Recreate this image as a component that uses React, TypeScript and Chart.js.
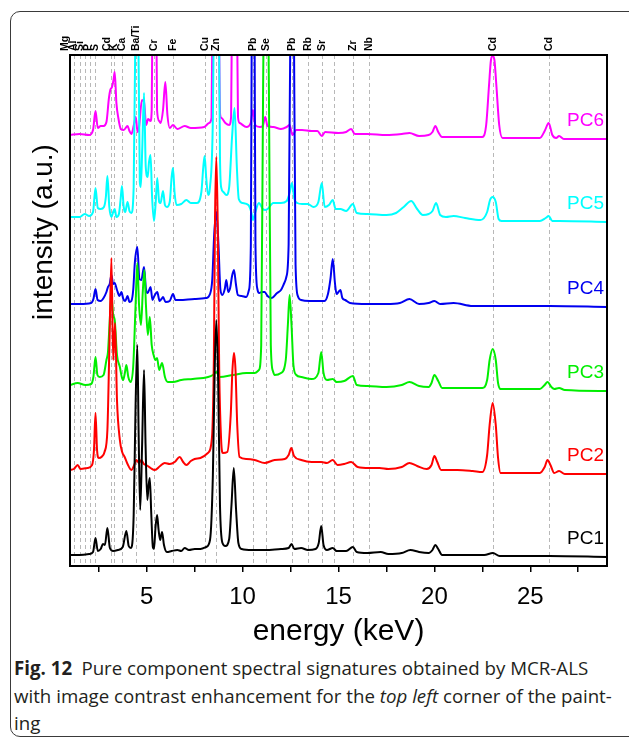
import React, { useEffect, useRef } from 'react';
import { Chart, registerables } from 'chart.js';

Chart.register(...registerables);

// ---------------- data ----------------
const seriesNames = ['PC1', 'PC2', 'PC3', 'PC4', 'PC5', 'PC6'];
const seriesColors = ['#000000', '#ff0000', '#00ee00', '#0000f0', '#00ffff', '#ff00ff'];
// vertical offset of each spectrum (a.u.)
const seriesOffsets = [11, 96, 181, 262, 349, 431];

// [energy keV, intensity a.u.]
const pc1: number[][] = [
  [1.0, 0], [1.5, 0], [2.0, 1], [2.2, 3], [2.33, 17], [2.45, 4], [2.6, 6], [2.72, 11], [2.82, 10], [2.95, 27],
  [3.08, 7], [3.25, 4], [3.5, 5], [3.75, 8], [3.94, 24], [4.06, 9], [4.18, 7], [4.32, 40], [4.42, 150], [4.51, 210],
  [4.58, 120], [4.66, 45], [4.76, 110], [4.86, 185], [4.94, 110], [5.03, 55], [5.1, 70], [5.16, 77], [5.24, 40], [5.32, 8],
  [5.38, 6], [5.46, 28], [5.54, 40], [5.62, 25], [5.7, 15], [5.8, 23], [5.9, 10], [6.05, 3], [6.3, 4], [6.6, 5],
  [6.8, 4], [6.98, 7], [7.2, 5], [7.5, 6], [7.8, 6], [8.1, 8], [8.3, 15], [8.45, 80], [8.55, 190], [8.63, 235],
  [8.72, 180], [8.82, 50], [8.95, 12], [9.1, 9], [9.3, 16], [9.42, 50], [9.54, 87], [9.66, 45], [9.78, 12], [9.95, 6],
  [10.5, 5], [11.2, 5], [12.0, 6], [12.4, 7], [12.55, 11], [12.7, 6], [13.05, 7], [13.4, 5], [13.8, 6], [13.97, 12],
  [14.1, 29], [14.22, 10], [14.4, 5], [14.7, 7], [14.9, 4], [15.4, 4], [15.75, 8], [15.95, 3], [16.5, 2], [17.2, 3],
  [17.6, 1], [18.3, 2], [18.75, 5], [19.2, 3], [19.7, 2], [19.9, 5], [20.05, 10], [20.2, 6], [20.4, 0], [21.5, 0],
  [22.6, 0], [23.05, 2], [23.4, -1], [24.5, -1], [26.0, -1], [29.0, -2],
];

const pc2: number[][] = [
  [1.0, 0], [1.2, 1], [1.4, 5], [1.55, 1], [1.9, 2], [2.15, 5], [2.25, 20], [2.33, 57], [2.41, 20], [2.5, 12],
  [2.64, 13], [2.8, 18], [2.95, 40], [3.05, 120], [3.16, 212], [3.25, 110], [3.35, 147], [3.45, 70], [3.6, 30], [3.72, 18],
  [3.85, 13], [4.0, 6], [4.2, 0], [4.35, 5], [4.46, 10], [4.6, 7], [4.72, 10], [4.85, 6], [4.98, 5], [5.2, 2],
  [5.42, 0], [5.7, 4], [5.94, 7], [6.2, 6], [6.46, 8], [6.72, 13], [6.9, 8], [7.07, 5], [7.3, 9], [7.5, 11],
  [7.8, 12], [8.19, 17], [8.4, 32], [8.5, 110], [8.56, 250], [8.63, 313], [8.7, 250], [8.78, 100], [8.88, 30], [8.97, 17],
  [9.2, 18], [9.38, 55], [9.47, 100], [9.55, 117], [9.63, 100], [9.72, 45], [9.84, 13], [10.2, 11], [10.63, 10], [11.15, 7],
  [11.67, 10], [12.2, 11], [12.4, 15], [12.54, 22], [12.68, 14], [13.06, 10], [13.6, 8], [14.1, 8], [14.4, 7], [14.7, 10],
  [14.95, 5], [15.3, 6], [15.66, 8], [16.0, 3], [16.6, 2], [17.14, 2], [17.6, 1], [18.3, 3], [18.7, 7], [19.1, 4],
  [19.6, 1], [19.85, 5], [20.0, 14], [20.15, 8], [20.35, 0], [21.2, 0], [22.0, -1], [22.5, -2], [22.75, 15], [22.88, 45],
  [23.04, 67], [23.2, 45], [23.32, 12], [23.45, -3], [25.5, -3], [25.75, 3], [25.9, 10], [26.05, 5], [26.25, -3], [26.5, -1],
  [26.8, -4], [29.0, -4],
];

const pc3: number[][] = [
  [1.0, 0], [1.4, 2], [1.8, 0], [2.1, 1], [2.22, 8], [2.33, 28], [2.43, 10], [2.55, 8], [2.75, 10], [2.9, 25],
  [2.98, 33], [3.06, 60], [3.16, 90], [3.25, 70], [3.33, 65], [3.45, 30], [3.6, 18], [3.7, 8], [3.77, 5], [3.86, 12],
  [3.94, 20], [4.04, 8], [4.17, 3], [4.3, 20], [4.42, 80], [4.51, 122], [4.6, 80], [4.7, 60], [4.8, 95], [4.88, 115],
  [4.96, 80], [5.06, 50], [5.16, 68], [5.26, 40], [5.36, 30], [5.45, 25], [5.54, 27], [5.65, 15], [5.8, 22], [5.95, 8],
  [6.1, 3], [6.37, 3], [6.8, 5], [7.4, 6], [8.2, 8], [8.45, 10], [8.63, 13], [8.8, 8], [9.5, 10], [10.2, 12],
  [10.63, 12], [10.85, 15], [10.97, 40], [11.07, 300], [11.22, 560], [11.37, 300], [11.47, 40], [11.58, 14], [11.67, 10], [12.0, 12],
  [12.25, 25], [12.36, 60], [12.45, 90], [12.55, 60], [12.65, 20], [12.8, 10], [13.06, 8], [13.6, 6], [13.95, 12], [14.1, 33],
  [14.22, 12], [14.4, 5], [14.7, 6], [14.9, 3], [15.3, 4], [15.75, 9], [15.95, 0], [16.5, -1], [17.5, -2], [18.3, 0],
  [18.7, 3], [19.2, -1], [19.7, -2], [19.85, 2], [20.0, 10], [20.2, 4], [20.4, -3], [21.5, -3], [22.5, -3], [22.75, 5],
  [22.88, 25], [23.04, 36], [23.2, 25], [23.32, 2], [23.45, -4], [25.5, -4], [25.75, 0], [25.9, 3], [26.1, -2], [26.25, -4],
  [26.5, -3], [26.8, -5], [29.0, -6],
];

const pc4: number[][] = [
  [1.0, 0], [1.5, 0], [2.1, 1], [2.22, 5], [2.33, 15], [2.44, 4], [2.6, 3], [2.75, 6], [2.9, 12], [2.98, 17],
  [3.07, 20], [3.16, 29], [3.25, 20], [3.33, 21], [3.45, 14], [3.58, 8], [3.68, 12], [3.78, 5], [3.88, 3], [4.0, 8],
  [4.1, 2], [4.2, 3], [4.3, 15], [4.38, 41], [4.51, 57], [4.62, 25], [4.72, 24], [4.86, 37], [4.96, 15], [5.05, 11],
  [5.2, 17], [5.3, 4], [5.4, 8], [5.55, 12], [5.67, 3], [5.77, 5], [5.85, 7], [5.98, 2], [6.2, 3], [6.37, 10],
  [6.5, 4], [6.7, 4], [7.5, 5], [8.1, 6], [8.3, 10], [8.42, 25], [8.52, 70], [8.63, 92], [8.74, 60], [8.84, 15],
  [8.94, 9], [9.07, 15], [9.15, 24], [9.25, 12], [9.35, 16], [9.45, 28], [9.55, 34], [9.65, 20], [9.75, 9], [9.95, 8],
  [10.19, 7], [10.33, 14], [10.43, 60], [10.48, 300], [10.55, 600], [10.62, 300], [10.67, 60], [10.77, 15], [10.87, 11], [11.0, 12],
  [11.15, 12], [11.3, 8], [11.5, 6], [11.8, 11], [12.0, 14], [12.15, 20], [12.28, 27], [12.4, 60], [12.5, 300], [12.58, 600],
  [12.67, 300], [12.76, 40], [12.88, 8], [13.05, 4], [13.5, 3], [14.0, 3], [14.27, 3], [14.45, 10], [14.58, 25], [14.7, 45],
  [14.82, 20], [14.9, 10], [15.0, 12], [15.1, 14], [15.2, 6], [15.35, 4], [15.6, 1], [16.5, 0], [17.5, 0], [18.2, 1],
  [18.7, 5], [19.2, 0], [19.7, 1], [20.0, 3], [20.3, 0], [21.0, 1], [22.0, -2], [23.0, -2], [24.0, -2], [26.0, -2],
  [29.0, -3],
];

const pc5: number[][] = [
  [1.0, 0], [1.5, 0], [1.77, 3], [2.0, 1], [2.2, 5], [2.33, 29], [2.45, 9], [2.6, 8], [2.77, 10], [2.87, 20],
  [2.95, 41], [3.05, 10], [3.16, 0], [3.25, 5], [3.33, 8], [3.42, 0], [3.55, 3], [3.64, 18], [3.71, 31], [3.8, 10],
  [3.88, 5], [4.0, 15], [4.1, 6], [4.2, 4], [4.32, 30], [4.42, 200], [4.49, 420], [4.56, 200], [4.64, 35], [4.69, 30],
  [4.77, 70], [4.86, 124], [4.95, 50], [5.05, 40], [5.12, 55], [5.2, 62], [5.28, 20], [5.38, -4], [5.47, 15], [5.55, 39],
  [5.65, 15], [5.72, 14], [5.85, 26], [5.95, 12], [6.05, 10], [6.2, 15], [6.3, 40], [6.37, 49], [6.45, 25], [6.55, 12],
  [6.8, 13], [7.07, 17], [7.3, 14], [7.6, 14], [7.85, 25], [7.95, 50], [8.02, 61], [8.1, 40], [8.2, 22], [8.3, 30],
  [8.45, 100], [8.55, 300], [8.65, 420], [8.73, 300], [8.82, 60], [8.89, 29], [9.0, 25], [9.15, 22], [9.3, 30], [9.45, 80],
  [9.58, 109], [9.7, 50], [9.8, 18], [10.0, 14], [10.3, 12], [10.45, 5], [10.54, -3], [10.65, 4], [10.85, 14], [11.05, 8],
  [11.18, 7], [11.3, 8], [11.6, 14], [12.0, 14], [12.3, 16], [12.45, 24], [12.57, 34], [12.7, 18], [12.85, 14], [13.1, 13],
  [13.4, 13], [13.7, 10], [13.95, 15], [14.13, 34], [14.28, 10], [14.5, 12], [14.7, 17], [14.85, 8], [15.1, 8], [15.4, 6],
  [15.75, 13], [15.95, 4], [16.5, 3], [17.5, 2], [18.0, 4], [18.4, 10], [18.79, 16], [19.1, 8], [19.4, 2], [19.7, 3],
  [19.9, 6], [20.09, 14], [20.3, 2], [20.6, 0], [21.0, 1], [21.6, -1], [22.4, -3], [22.75, 5], [22.9, 17], [23.04, 20],
  [23.2, 15], [23.35, -2], [23.5, -4], [25.5, -4], [25.8, -1], [25.96, 1], [26.15, -4], [26.5, -4], [29.0, -5],
];

const pc6: number[][] = [
  [1.0, 0], [1.5, 1], [2.0, 0], [2.2, 5], [2.33, 24], [2.45, 7], [2.6, 9], [2.75, 9], [2.9, 13], [3.03, 37],
  [3.1, 45], [3.19, 48], [3.27, 55], [3.33, 63], [3.42, 32], [3.52, 17], [3.65, 6], [3.8, 5], [4.0, 9], [4.1, 4],
  [4.2, 1], [4.33, 10], [4.43, 18], [4.52, 3], [4.6, 8], [4.75, 35], [4.86, 33], [4.97, 10], [5.07, 16], [5.2, 14],
  [5.26, 25], [5.31, 150], [5.4, 500], [5.49, 150], [5.54, 25], [5.65, 14], [5.73, 12], [5.85, 25], [5.97, 53], [6.08, 20],
  [6.2, 7], [6.37, 10], [6.6, 6], [6.98, 9], [7.3, 7], [8.0, 8], [8.25, 12], [8.38, 17], [8.43, 120], [8.5, 420],
  [8.6, 520], [8.7, 420], [8.77, 120], [8.83, 20], [8.9, 17], [9.1, 12], [9.3, 10], [9.4, 18], [9.45, 130], [9.52, 420],
  [9.58, 520], [9.64, 420], [9.7, 130], [9.76, 18], [9.85, 12], [10.2, 8], [10.42, 12], [10.54, 25], [10.66, 10], [10.9, 8],
  [11.05, 9], [11.18, 18], [11.3, 9], [11.6, 8], [12.0, 6], [12.3, 8], [12.45, 10], [12.6, 0], [12.8, 5], [13.1, 5],
  [13.6, 4], [13.9, 4], [14.13, -1], [14.3, 3], [15.0, 2], [15.4, 3], [15.66, 6], [15.85, 1], [16.5, 1], [17.5, 0],
  [18.3, 1], [18.7, 2], [19.2, -1], [19.7, 0], [19.9, 3], [20.05, 9], [20.2, 3], [20.4, -2], [21.5, -2], [22.5, -2],
  [22.7, 10], [22.85, 50], [22.95, 75], [23.04, 79], [23.13, 75], [23.23, 50], [23.38, 10], [23.55, -3], [25.5, -3], [25.75, 4],
  [25.96, 12], [26.15, 0], [26.35, -3], [26.5, -1], [26.75, -4], [29.0, -4],
];

const seriesData = [pc1, pc2, pc3, pc4, pc5, pc6];

// element reference lines
const elementNames = ['Mg', 'Al', 'Si', 'P', 'S', 'Cd', 'K', 'Ca', 'Ba/Ti', 'Cr', 'Fe', 'Cu', 'Zn', 'Pb', 'Se', 'Pb', 'Rb', 'Sr', '', 'Zr', 'Nb', 'Cd', 'Cd'];
const elementEnergies = [1.22, 1.5, 1.78, 2.05, 2.32, 3.15, 3.32, 3.72, 4.45, 5.38, 6.39, 8.02, 8.63, 10.54, 11.2, 12.6, 13.4, 14.14, 14.77, 15.76, 16.58, 23.05, 25.98];

const xTickValues = [2.5, 5, 7.5, 10, 12.5, 15, 17.5, 20, 22.5, 25, 27.5];
const xMin = 1;
const xMax = 29;
const yMin = 0;
const yMax = 511;

const FONT = "'Liberation Sans', Arial, Helvetica, sans-serif";
const LABEL_GAP = 7.5; // minimum pixel spacing between element labels

const decorPlugin = {
  id: 'decor',
  beforeDatasetsDraw(chart: any) {
    const { ctx, chartArea: a, scales } = chart;
    const x = scales.x;
    ctx.save();
    ctx.beginPath();
    ctx.rect(a.left, a.top, a.right - a.left, a.bottom - a.top);
    ctx.clip();
    ctx.strokeStyle = '#b8b8b8';
    ctx.lineWidth = 1;
    ctx.setLineDash([4, 3]);
    elementEnergies.forEach((e) => {
      const px = Math.round(x.getPixelForValue(e)) + 0.5;
      ctx.beginPath();
      ctx.moveTo(px, a.top);
      ctx.lineTo(px, a.bottom);
      ctx.stroke();
    });
    ctx.restore();
  },
  afterDraw(chart: any) {
    const { ctx, chartArea: a, scales } = chart;
    const x = scales.x;
    const y = scales.y;
    ctx.save();
    // frame
    ctx.strokeStyle = '#000';
    ctx.lineWidth = 2;
    ctx.setLineDash([]);
    ctx.strokeRect(a.left, a.top, a.right - a.left, a.bottom - a.top);

    // element labels (spread crowded ones leftwards)
    const idx = elementNames.map((n, i) => i).filter((i) => elementNames[i]);
    const pos: number[] = idx.map((i) => x.getPixelForValue(elementEnergies[i]));
    for (let k = pos.length - 2; k >= 0; k--) {
      pos[k] = Math.min(pos[k], pos[k + 1] - LABEL_GAP);
    }
    ctx.fillStyle = '#000';
    ctx.font = `bold 10.5px ${FONT}`;
    ctx.textAlign = 'left';
    ctx.textBaseline = 'middle';
    idx.forEach((i, k) => {
      ctx.save();
      ctx.translate(pos[k], a.top - 4);
      ctx.rotate(-Math.PI / 2);
      ctx.fillText(elementNames[i], 0, 0);
      ctx.restore();
    });

    // series labels
    ctx.font = `19px ${FONT}`;
    ctx.textAlign = 'right';
    ctx.textBaseline = 'middle';
    seriesNames.forEach((name, i) => {
      const d = seriesData[i];
      const last = d[d.length - 1][1] + seriesOffsets[i];
      ctx.fillStyle = seriesColors[i];
      ctx.fillText(name, a.right - 3, y.getPixelForValue(last) - 18);
    });

    // y title
    ctx.fillStyle = '#000';
    ctx.font = `28px ${FONT}`;
    ctx.textAlign = 'center';
    ctx.textBaseline = 'middle';
    ctx.save();
    ctx.translate(44, 232);
    ctx.rotate(-Math.PI / 2);
    ctx.fillText('intensity (a.u.)', 0, 0);
    ctx.restore();
    ctx.restore();
  },
};

function SpectraChart() {
  const ref = useRef<HTMLCanvasElement | null>(null);
  useEffect(() => {
    if (!ref.current) return;
    const datasets = seriesData.map((d, i) => ({
      label: seriesNames[i],
      data: d.map(([e, v]) => ({ x: e, y: v + seriesOffsets[i] })),
      borderColor: seriesColors[i],
      backgroundColor: seriesColors[i],
      borderWidth: 2,
      pointRadius: 0,
      fill: false,
      cubicInterpolationMode: 'monotone' as const,
    }));
    const chart = new Chart(ref.current, {
      type: 'line',
      data: { datasets },
      options: {
        animation: false,
        responsive: false,
        devicePixelRatio: 1,
        layout: { padding: { left: 70, top: 55, right: 22, bottom: 0 } },
        plugins: { legend: { display: false }, tooltip: { enabled: false } },
        scales: {
          x: {
            type: 'linear',
            min: xMin,
            max: xMax,
            afterBuildTicks: (scale: any) => {
              scale.ticks = xTickValues.map((v) => ({ value: v }));
            },
            afterFit: (scale: any) => {
              scale.height = 84;
            },
            grid: { display: true, drawOnChartArea: false, drawTicks: true, tickLength: 6, color: '#000', lineWidth: 1.5 },
            border: { display: false },
            ticks: {
              autoSkip: false,
              maxRotation: 0,
              padding: 11,
              color: '#000',
              font: { family: FONT, size: 24 },
              callback: (v: any) => (Number(v) % 5 === 0 ? String(v) : ''),
            },
            title: {
              display: true,
              text: 'energy (keV)',
              color: '#000',
              font: { family: FONT, size: 30 },
              padding: { top: 0, bottom: 0 },
            },
          },
          y: { type: 'linear', min: yMin, max: yMax, display: false },
        },
      },
      plugins: [decorPlugin],
    });
    return () => chart.destroy();
  }, []);
  return <canvas ref={ref} width={629} height={650} style={{ width: 629, height: 650, display: 'block' }} />;
}

export default function App() {
  return (
    <div style={{ position: 'fixed', left: 0, top: 0, width: 629, height: 738, overflow: 'hidden', background: '#fff' }}>
      <div
        style={{
          position: 'absolute', left: 10, top: 11, width: 720, height: 726,
          border: '1px solid #3a3a3a', borderRadius: 10, boxSizing: 'border-box',
        }}
      />
      <div style={{ position: 'absolute', left: 0, top: 0, width: 629, height: 650 }}>
        <SpectraChart />
      </div>
      <div
        style={{
          position: 'absolute', left: 14, top: 654, fontFamily: "'Open Sans', 'Noto Sans', sans-serif",
          fontSize: 18.7, lineHeight: '27.5px', color: '#231f20', whiteSpace: 'nowrap',
        }}
      >
        <div><b>Fig. 12</b>{'\u2002'}Pure component spectral signatures obtained by MCR-ALS</div>
        <div>with image contrast enhancement for the <i>top left</i> corner of the paint-</div>
        <div>ing</div>
      </div>
    </div>
  );
}
